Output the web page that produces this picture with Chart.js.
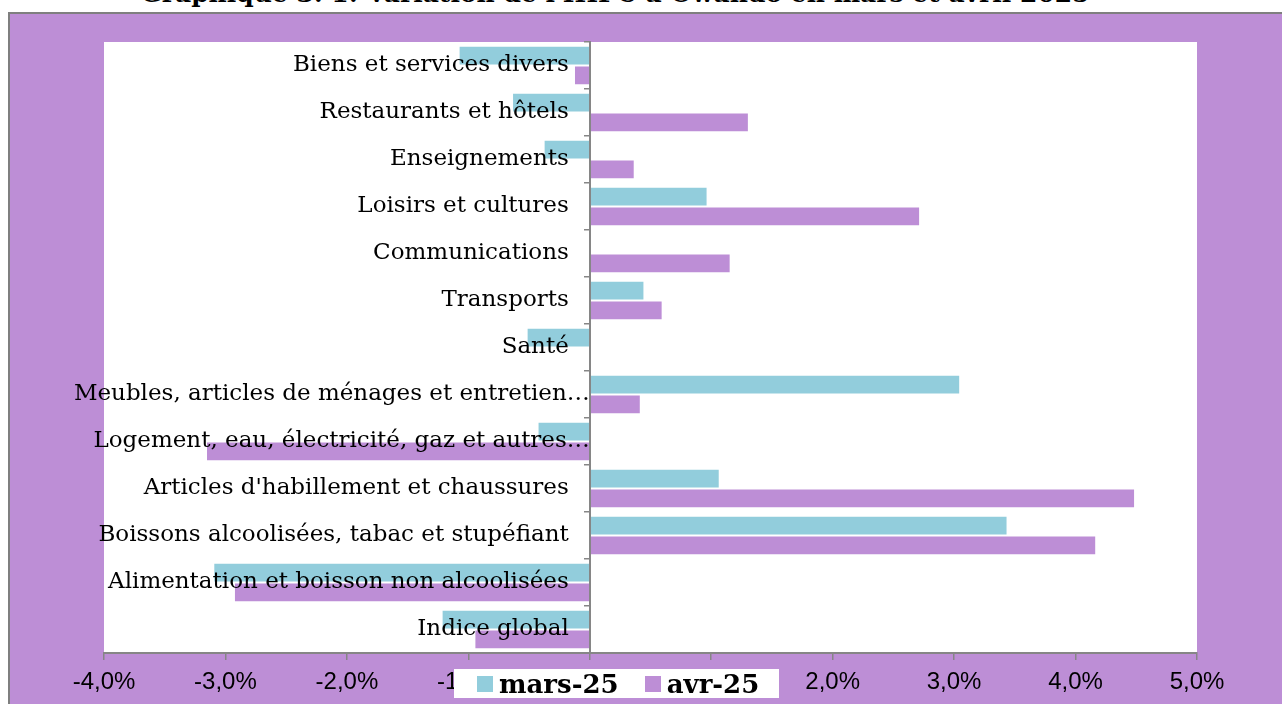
<!DOCTYPE html>
<html>
<head>
<meta charset="utf-8">
<script src="https://cdn.jsdelivr.net/npm/chart.js@4/dist/chart.umd.min.js"></script>
<style>
  body { margin: 0; background: #fff; }
  #wrap { position: relative; width: 1282px; height: 704px; overflow: hidden; background: #fff; }
  #frame { position: absolute; left: 8px; top: 12px; right: 0; bottom: 0; background: #bd8ed6;
           border-left: 2px solid #7f7f7f; border-top: 2px solid #7f7f7f; }
  #title { position: absolute; left: 0; width: 1230px; top: -21px; line-height: 25px; text-align: center;
           font: bold 25px "DejaVu Serif", serif; color: #000; white-space: nowrap; }
  #chart { position: absolute; left: 0; top: 0; }
  #legend { position: absolute; left: 454px; top: 669px; width: 325px; height: 29px; background: #fff;
            display: flex; align-items: center; font: bold 26px "DejaVu Serif", serif; color: #000; }
  #legend .sw { display: inline-block; width: 16px; height: 16px; margin: 0 6px 0 0; }
  #legend .it { display: flex; align-items: center; }
</style>
</head>
<body>
<div id="wrap">
  <div id="title">Graphique 3. 1: Variation de l'IHPC à Owando en mars et avril 2025</div>
  <div id="frame"></div>
  <canvas id="chart" width="1282" height="704"></canvas>
  <div id="legend">
    <span class="it" style="margin-left:23px"><span class="sw" style="background:#92cddc"></span>mars-25</span>
    <span class="it" style="margin-left:26px"><span class="sw" style="background:#bd8ed6"></span>avr-25</span>
  </div>
</div>
<script>
// categories, top to bottom as in the picture
const categories = [
  'Biens et services divers',
  'Restaurants et hôtels',
  'Enseignements',
  'Loisirs et cultures',
  'Communications',
  'Transports',
  'Santé',
  'Meubles, articles de ménages et entretien…',
  'Logement, eau, électricité, gaz et autres…',
  "Articles d'habillement et chaussures",
  'Boissons alcoolisées, tabac et stupéfiant',
  'Alimentation et boisson non alcoolisées',
  'Indice global'
];

// variation in %
const mars25 = [-1.08, -0.64, -0.38, 0.97, 0, 0.45, -0.52, 3.05, -0.43, 1.07, 3.44, -3.10, -1.22];
const avr25 = [-0.13, 1.31, 0.37, 2.72, 1.16, 0.60, 0, 0.42, -3.16, 4.49, 4.17, -2.93, -0.95];

const xTicks = [-4, -3, -2, -1, 0, 1, 2, 3, 4, 5];

const blue = '#92cddc';
const purple = '#bd8ed6';
const axisGrey = '#868686';

// white plot area behind the bars
const plotBg = {
  id: 'plotBg',
  beforeDraw(chart) {
    const { ctx, chartArea: a } = chart;
    ctx.save();
    ctx.fillStyle = '#fff';
    ctx.fillRect(a.left, a.top, a.right - a.left, a.bottom - a.top);
    ctx.restore();
  }
};

// the y axis sits at x = 0, where chart.js puts no padding before the labels,
// so push them left a bit (the cut labels stay against the axis, like Excel)
const labelGap = {
  id: 'labelGap',
  beforeDraw(chart) {
    const s = chart.scales.y;
    const items = s.getLabelItems(chart.chartArea);
    if (items._shifted) return;
    items.forEach(it => {
      if (!String(it.label).endsWith('…')) it.options.translation[0] -= 21;
    });
    items._shifted = true;
  }
};

new Chart(document.getElementById('chart'), {
  type: 'bar',
  data: {
    labels: categories,
    datasets: [
      { label: 'mars-25', data: mars25, backgroundColor: blue, borderColor: 'rgba(255,255,255,0.7)', borderWidth: 1 },
      { label: 'avr-25', data: avr25, backgroundColor: purple, borderColor: 'rgba(255,255,255,0.7)', borderWidth: 1 }
    ]
  },
  options: {
    indexAxis: 'y',
    responsive: false,
    animation: false,
    devicePixelRatio: 1,
    categoryPercentage: 0.84,
    barPercentage: 1,
    layout: { padding: { left: 104, top: 42, right: 85, bottom: 0 } },
    plugins: {
      legend: { display: false },
      tooltip: { enabled: false }
    },
    scales: {
      x: {
        min: -4,
        max: 5,
        afterFit: (s) => { s.height = 51; },
        afterBuildTicks: (s) => { s.ticks = xTicks.map(v => ({ value: v })); },
        grid: { drawOnChartArea: false, tickLength: 7, color: axisGrey, lineWidth: 1.5 },
        border: { color: axisGrey, width: 2 },
        ticks: {
          padding: 8,
          color: '#000',
          font: { family: 'Liberation Sans', size: 24 },
          callback: (v) => v.toFixed(1).replace('.', ',') + '%'
        }
      },
      y: {
        position: { x: 0 },
        grid: { drawOnChartArea: false, tickLength: 5, color: axisGrey, lineWidth: 1.5, offset: true, z: 1 },
        border: { color: axisGrey, width: 2, z: 1 },
        ticks: {
          z: 1,
          color: '#000',
          font: { family: 'DejaVu Serif', size: 23 }
        }
      }
    }
  },
  plugins: [plotBg, labelGap]
});
</script>
</body>
</html>
